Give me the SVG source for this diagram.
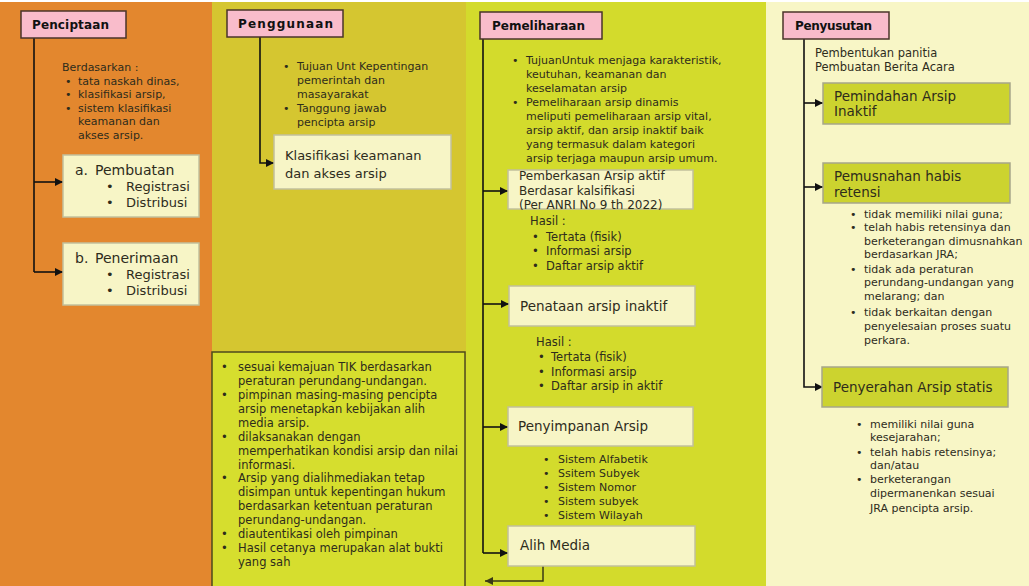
<svg xmlns="http://www.w3.org/2000/svg" width="1029" height="586" viewBox="0 0 1029 586">
<defs>
<marker id="ah" viewBox="0 0 10 10" refX="10" refY="5" markerWidth="9" markerHeight="8" markerUnits="userSpaceOnUse" orient="auto"><path d="M0,0 L10,5 L0,10 z" fill="#111"/></marker>
<marker id="ah2" viewBox="0 0 10 10" refX="10" refY="5" markerWidth="9" markerHeight="8" markerUnits="userSpaceOnUse" orient="auto"><path d="M0,0 L10,5 L0,10 z" fill="#3a3a14"/></marker>
<style>
text{font-family:"DejaVu Sans","Liberation Sans",sans-serif;fill:#2e2c1c}
.hd{fill:#f9bccb;stroke:#4a342a;stroke-width:1.5}
.ht{font-weight:bold;font-size:12px;fill:#111}
.pb{fill:#f7f5c6;stroke:#c2c09c;stroke-width:1.5}
.gb{fill:#ccd32f;stroke:#a6a68a;stroke-width:1.5}
.s11{font-size:11px}
.s115{font-size:11.5px}
.s12{font-size:12px}
.s13{font-size:13px}
.s135{font-size:13.5px}
.s14{font-size:14px}
.cn{fill:none;stroke:#111;stroke-width:1.6}
</style>
</defs>
<rect x="0" y="0" width="1029" height="586" fill="#ffffff"/>
<g id="backgrounds">
<rect x="0" y="2" width="212" height="584" fill="#e3872e"/>
<rect x="212" y="2" width="254" height="584" fill="#d5c630"/>
<rect x="466" y="2" width="300" height="584" fill="#d3db2c"/>
<rect x="766" y="2" width="263" height="584" fill="#f8f6c6"/>
</g>
<g id="connectors">
<path class="cn" d="M34,38 V272"/>
<path class="cn" d="M34,182 H63" marker-end="url(#ah)"/>
<path class="cn" d="M34,272 H63" marker-end="url(#ah)"/>
<path class="cn" d="M260,37 V163 H274" marker-end="url(#ah)"/>
<path class="cn" d="M483,39 V553"/>
<path class="cn" d="M483,191 H508" marker-end="url(#ah)"/>
<path class="cn" d="M483,304 H509" marker-end="url(#ah)"/>
<path class="cn" d="M483,427 H508" marker-end="url(#ah)"/>
<path class="cn" d="M483,553 H508" marker-end="url(#ah)"/>
<path d="M543,566 V581 H485" fill="none" stroke="#3a3a14" stroke-width="1.5" marker-end="url(#ah2)"/>
<path class="cn" d="M804,39 V387 H823" marker-end="url(#ah)"/>
<path class="cn" d="M804,103 H823" marker-end="url(#ah)"/>
<path class="cn" d="M804,187 H823" marker-end="url(#ah)"/>
</g>
<g id="penciptaan">
<rect class="hd" x="21" y="11" width="105" height="27"/>
<text class="ht" x="32" y="29" textLength="77">Penciptaan</text>
</g>
<g id="penciptaan-notes" class="s11">
<text x="62" y="71">Berdasarkan :</text>
<text x="65" y="84.5">•</text><text x="78" y="84.5">tata naskah dinas,</text>
<text x="65" y="98">•</text><text x="78" y="98">klasifikasi arsip,</text>
<text x="65" y="111.5">•</text><text x="78" y="111.5">sistem klasifikasi</text>
<text x="78" y="125">keamanan dan</text>
<text x="78" y="138.5">akses arsip.</text>
</g>
<g id="pembuatan">
<rect class="pb" x="63" y="155" width="136" height="62"/>
<text class="s14" x="75" y="175">a.</text><text class="s14" x="95" y="175">Pembuatan</text>
<text class="s13" x="106" y="191">•</text><text class="s13" x="126" y="191">Registrasi</text>
<text class="s13" x="106" y="207">•</text><text class="s13" x="126" y="207">Distribusi</text>
</g>
<g id="penerimaan">
<rect class="pb" x="63" y="243" width="136" height="62"/>
<text class="s14" x="75" y="263">b.</text><text class="s14" x="95" y="263">Penerimaan</text>
<text class="s13" x="106" y="279">•</text><text class="s13" x="126" y="279">Registrasi</text>
<text class="s13" x="106" y="295">•</text><text class="s13" x="126" y="295">Distribusi</text>
</g>
<g id="penggunaan">
<rect class="hd" x="227" y="10" width="116" height="27"/>
<text class="ht" x="238" y="28" textLength="95">Penggunaan</text>
</g>
<g id="penggunaan-notes" class="s11">
<text x="283" y="70">•</text><text x="297" y="70">Tujuan Unt Kepentingan</text>
<text x="297" y="84">pemerintah dan</text>
<text x="297" y="98">masayarakat</text>
<text x="283" y="112">•</text><text x="297" y="112">Tanggung jawab</text>
<text x="297" y="126">pencipta arsip</text>
</g>
<g id="klasifikasi">
<rect class="pb" x="274" y="135" width="177" height="54"/>
<text class="s13" x="285" y="159.5">Klasifikasi keamanan</text>
<text class="s13" x="285" y="177.5">dan akses arsip</text>
</g>
<g id="alih-media-notes">
<rect x="212" y="352" width="253" height="240" fill="#d6de2e" stroke="#4e4a1c" stroke-width="1.5"/>
<g class="s115">
<text x="221" y="371">•</text><text x="238" y="371">sesuai kemajuan TIK berdasarkan</text>
<text x="238" y="385">peraturan perundang-undangan.</text>
<text x="221" y="399">•</text><text x="238" y="399">pimpinan masing-masing pencipta</text>
<text x="238" y="413">arsip menetapkan kebijakan alih</text>
<text x="238" y="426.5">media arsip.</text>
<text x="221" y="440.5">•</text><text x="238" y="440.5">dilaksanakan dengan</text>
<text x="238" y="454.5">memperhatikan kondisi arsip dan nilai</text>
<text x="238" y="468.5">informasi.</text>
<text x="221" y="482">•</text><text x="238" y="482">Arsip yang dialihmediakan tetap</text>
<text x="238" y="496">disimpan untuk kepentingan hukum</text>
<text x="238" y="510">berdasarkan ketentuan peraturan</text>
<text x="238" y="524">perundang-undangan.</text>
<text x="221" y="538">•</text><text x="238" y="538">diautentikasi oleh pimpinan</text>
<text x="221" y="552">•</text><text x="238" y="552">Hasil cetanya merupakan alat bukti</text>
<text x="238" y="566">yang sah</text>
</g>
</g>
<g id="pemeliharaan">
<rect class="hd" x="480" y="12" width="122" height="27"/>
<text class="ht" x="492" y="30" textLength="93">Pemeliharaan</text>
</g>
<g id="pemeliharaan-notes" class="s11">
<text x="512" y="64">•</text><text x="526" y="64">TujuanUntuk menjaga karakteristik,</text>
<text x="526" y="78">keutuhan, keamanan dan</text>
<text x="526" y="92">keselamatan arsip</text>
<text x="512" y="106">•</text><text x="526" y="106">Pemeliharaan arsip dinamis</text>
<text x="526" y="120">meliputi pemeliharaan arsip vital,</text>
<text x="526" y="134">arsip aktif, dan arsip inaktif baik</text>
<text x="526" y="148">yang termasuk dalam kategori</text>
<text x="526" y="162">arsip terjaga maupun arsip umum.</text>
</g>
<g id="pemberkasan">
<rect class="pb" x="508" y="170" width="185" height="39"/>
<text class="s12" x="519" y="180">Pemberkasan Arsip aktif</text>
<text class="s12" x="519" y="195">Berdasar kalsifikasi</text>
<text class="s12" x="519" y="209">(Per ANRI No 9 th 2022)</text>
</g>
<g id="pemberkasan-hasil" class="s115">
<text x="530" y="225">Hasil :</text>
<text x="532" y="241">•</text><text x="546" y="241">Tertata (fisik)</text>
<text x="532" y="255">•</text><text x="546" y="255">Informasi arsip</text>
<text x="532" y="270">•</text><text x="546" y="270">Daftar arsip aktif</text>
</g>
<g id="penataan">
<rect class="pb" x="509" y="286" width="186" height="40"/>
<text class="s135" x="520" y="311">Penataan arsip inaktif</text>
</g>
<g id="penataan-hasil" class="s115">
<text x="536" y="346">Hasil :</text>
<text x="538" y="361">•</text><text x="551" y="361">Tertata (fisik)</text>
<text x="538" y="376">•</text><text x="551" y="376">Informasi arsip</text>
<text x="538" y="390">•</text><text x="551" y="390">Daftar arsip in aktif</text>
</g>
<g id="penyimpanan">
<rect class="pb" x="508" y="407" width="185" height="39"/>
<text class="s135" x="518" y="431">Penyimpanan Arsip</text>
</g>
<g id="penyimpanan-sistem" class="s11">
<text x="543" y="463">•</text><text x="558" y="463">Sistem Alfabetik</text>
<text x="543" y="477">•</text><text x="558" y="477">Ssitem Subyek</text>
<text x="543" y="491">•</text><text x="558" y="491">Sistem Nomor</text>
<text x="543" y="505">•</text><text x="558" y="505">Sistem subyek</text>
<text x="543" y="519">•</text><text x="558" y="519">Sistem Wilayah</text>
</g>
<g id="alih-media">
<rect class="pb" x="508" y="526" width="187" height="40"/>
<text class="s135" x="520" y="550">Alih Media</text>
</g>
<g id="penyusutan">
<rect class="hd" x="783" y="12" width="106" height="27"/>
<text class="ht" x="795" y="30" textLength="77">Penyusutan</text>
</g>
<g id="penyusutan-notes" class="s115">
<text x="815" y="57">Pembentukan panitia</text>
<text x="815" y="71">Pembuatan Berita Acara</text>
</g>
<g id="pemindahan">
<rect class="gb" x="823" y="83" width="187" height="41"/>
<text class="s135" x="834" y="101">Pemindahan Arsip</text>
<text class="s135" x="834" y="116">Inaktif</text>
</g>
<g id="pemusnahan">
<rect class="gb" x="823" y="163" width="187" height="40"/>
<text class="s135" x="834" y="181">Pemusnahan habis</text>
<text class="s135" x="834" y="197">retensi</text>
</g>
<g id="pemusnahan-notes" class="s11">
<text x="850" y="218">•</text><text x="864" y="218">tidak memiliki nilai guna;</text>
<text x="850" y="231">•</text><text x="864" y="231">telah habis retensinya dan</text>
<text x="864" y="245">berketerangan dimusnahkan</text>
<text x="864" y="258">berdasarkan JRA;</text>
<text x="850" y="273">•</text><text x="864" y="273">tidak ada peraturan</text>
<text x="864" y="286">perundang-undangan yang</text>
<text x="864" y="300">melarang; dan</text>
<text x="850" y="316">•</text><text x="864" y="316">tidak berkaitan dengan</text>
<text x="864" y="330">penyelesaian proses suatu</text>
<text x="864" y="344">perkara.</text>
</g>
<g id="penyerahan">
<rect class="gb" x="822" y="367" width="186" height="40"/>
<text class="s135" x="833" y="392">Penyerahan Arsip statis</text>
</g>
<g id="penyerahan-notes" class="s11">
<text x="856" y="428">•</text><text x="870" y="428">memiliki nilai guna</text>
<text x="870" y="441">kesejarahan;</text>
<text x="856" y="456">•</text><text x="870" y="456">telah habis retensinya;</text>
<text x="870" y="469">dan/atau</text>
<text x="856" y="483">•</text><text x="870" y="483">berketerangan</text>
<text x="870" y="497">dipermanenkan sesuai</text>
<text x="870" y="512">JRA pencipta arsip.</text>
</g>
</svg>
